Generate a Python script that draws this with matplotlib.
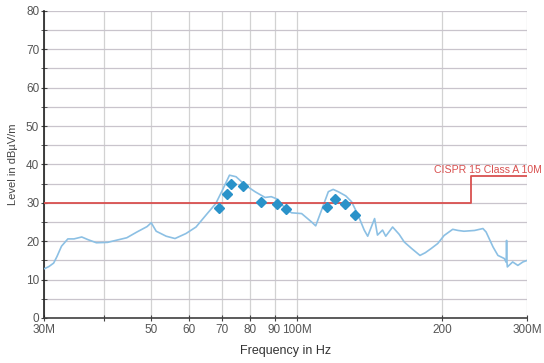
import matplotlib
matplotlib.use("Agg")
import matplotlib.pyplot as plt
import numpy as np

# Spectrum trace (MHz, dBuV/m)
trace_f = [30, 30.7, 31.4, 31.9, 32.6, 33.6, 34.6, 35.9, 37, 38.5, 40.6, 42.5, 44.5, 46.7, 49, 50,
           51.2, 53.7, 56, 59, 61.9, 64.9, 68.0, 70.2, 72.6, 74.9, 78.3, 82, 86, 88.6, 91.5, 94.7,
           97.6, 102.4, 107.4, 109.5, 112.6, 116.3, 119, 121.9, 126.4, 129.9, 134, 138, 140.3, 145,
           147, 150.6, 152.9, 158, 163, 167, 173, 180, 184.6, 189.9, 195.9, 202, 210.4, 215.9, 222,
           233.5, 243, 246.7, 255, 261, 269, 271.5, 272, 272.5, 273, 280, 287, 294, 300]
trace_db = [12.8, 13.4, 14.3, 16, 18.7, 20.6, 20.6, 21.1, 20.4, 19.6, 19.7, 20.3, 20.9, 22.4, 23.8, 24.8,
            22.6, 21.3, 20.7, 22, 23.7, 26.8, 29.8, 33.3, 37.2, 36.8, 34.6, 32.9, 31.4, 31.6, 30.9, 28.5,
            27.4, 27.2, 25, 24, 28.1, 32.9, 33.5, 32.9, 31.8, 30.3, 26.8, 22.9, 21.3, 25.9,
            21.6, 22.9, 21.3, 23.7, 21.8, 19.8, 18.1, 16.3, 17, 18.1, 19.4, 21.5, 23.1, 22.8, 22.6,
            22.8, 23.3, 22.4, 18.5, 16.3, 15.5, 14.5, 20.2, 14.5, 13.3, 14.6, 13.7, 14.6, 15]

# Quasi-peak measurement points
qp_f = [69.0, 71.7, 73.1, 77.4, 84.5, 91.0, 94.9, 115.4, 120.3, 126, 132]
qp_db = [28.7, 32.2, 35.0, 34.3, 30.3, 29.6, 28.3, 29.0, 31.0, 29.8, 26.8]

# Limit line CISPR 15 Class A 10m
limit_f = [30, 230, 230, 300]
limit_db = [30, 30, 37, 37]
limit_label = "CISPR 15 Class A 10M"

xtick_vals = [30, 40, 50, 60, 70, 80, 90, 100, 200, 300]
xtick_labels = ["30M", "", "50", "60", "70", "80", "90", "100M", "200", "300M"]
ytick_vals = [0, 10, 20, 30, 40, 50, 60, 70, 80]

plt.rcParams['font.family'] = ['Liberation Sans', 'DejaVu Sans']

fig = plt.figure(figsize=(5.44, 3.63), dpi=100)
ax = fig.add_axes([0.081, 0.124, 0.888, 0.846])

ax.set_xscale('log')
ax.set_xlim(30, 300)
ax.set_ylim(0, 80)

ax.plot(trace_f, trace_db, color='#8cc0e4', lw=1.2, zorder=3)
ax.plot(limit_f, limit_db, color='#d9504f', lw=1.3, zorder=4)
ax.plot(qp_f, qp_db, linestyle='none', marker='D', ms=4.8, color='#2a92c9', zorder=5)
ax.text(192, 38.6, limit_label, color='#d9504f', fontsize=7.6, va='center', ha='left', clip_on=False)

ax.set_xticks(xtick_vals)
ax.set_xticklabels(xtick_labels)
ax.xaxis.set_minor_locator(matplotlib.ticker.NullLocator())
ax.set_yticks(ytick_vals)
ax.set_yticks(np.arange(5, 80, 10), minor=True)

ax.grid(True, which='major', axis='x', color='#d2d2d2', lw=0.9)
ax.grid(True, which='both', axis='y', color='#c9c4cc', lw=0.9)
ax.set_axisbelow(True)

for s in ['top', 'right']:
    ax.spines[s].set_visible(False)
ax.spines['left'].set_color('#202020')
ax.spines['bottom'].set_color('#404040')
ax.spines['left'].set_linewidth(1.2)
ax.spines['bottom'].set_linewidth(1.2)

ax.tick_params(axis='both', which='both', direction='inout', length=5, colors='#444444',
               labelsize=8.5, labelcolor='#555555')
ax.tick_params(axis='x', pad=2)
ax.tick_params(axis='y', pad=1)

ax.set_xlabel("Frequency in Hz", fontsize=9, color='#333333', labelpad=6)
ax.set_ylabel("Level in dB\u00b5V/m", fontsize=8, color='#444444', labelpad=6)

fig.savefig("out.png", dpi=100)
